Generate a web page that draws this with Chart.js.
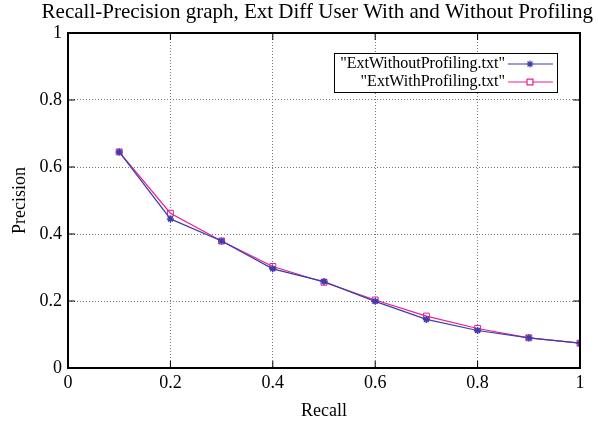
<!DOCTYPE html>
<html>
<head>
<meta charset="utf-8">
<script src="https://cdn.jsdelivr.net/npm/chart.js@4/dist/chart.umd.min.js"></script>
<style>
  html, body { margin: 0; padding: 0; background: #fff; }
  #wrap { width: 598px; height: 422px; }
</style>
</head>
<body>
<div id="wrap"><canvas id="chart" width="598" height="422"></canvas></div>
<script>
// recall levels and precision per series
const recall = [0.1, 0.2, 0.3, 0.4, 0.5, 0.6, 0.7, 0.8, 0.9, 1.0];
const withoutProfiling = [0.645, 0.445, 0.379, 0.296, 0.258, 0.199, 0.145, 0.112, 0.090, 0.074];
const withProfiling = [0.645, 0.462, 0.379, 0.303, 0.256, 0.203, 0.155, 0.118, 0.090, 0.074];
const seriesNames = ['"ExtWithoutProfiling.txt"', '"ExtWithProfiling.txt"'];
const tickValues = [0, 0.2, 0.4, 0.6, 0.8, 1];
const tickLabels = ['0', '0.2', '0.4', '0.6', '0.8', '1'];
const chartTitle = 'Recall-Precision graph, Ext Diff User With and Without Profiling';

const SERIF = '"Liberation Serif", "DejaVu Serif", serif';
const BLUE = '#3c3cae';
const PINK = '#e8208e';

function toPoints(values) {
    return recall.map((r, i) => ({ x: r, y: values[i] }));
}

function tickText(value) {
    const i = tickValues.indexOf(Math.round(value * 10) / 10);
    return i >= 0 ? tickLabels[i] : '';
}

// frame with inward ticks on all four sides, gnuplot style
const framePlugin = {
    id: 'frame',
    afterDatasetsDraw(chart) {
        const { ctx, chartArea: a, scales } = chart;
        ctx.save();
        ctx.strokeStyle = '#000';
        ctx.lineWidth = 1;
        ctx.beginPath();
        tickValues.forEach(v => {
            const px = scales.x.getPixelForValue(v);
            const py = scales.y.getPixelForValue(v);
            ctx.moveTo(px, a.bottom); ctx.lineTo(px, a.bottom - 7);
            ctx.moveTo(px, a.top); ctx.lineTo(px, a.top + 7);
            ctx.moveTo(a.left, py); ctx.lineTo(a.left + 7, py);
            ctx.moveTo(a.right, py); ctx.lineTo(a.right - 7, py);
        });
        ctx.stroke();
        ctx.lineWidth = 2;
        ctx.strokeRect(a.left, a.top, a.right - a.left, a.bottom - a.top);
        ctx.restore();
    }
};

// title sits a little right of the plot centre, like gnuplot puts it
const titlePlugin = {
    id: 'plotTitle',
    afterDraw(chart) {
        const { ctx } = chart;
        ctx.save();
        ctx.fillStyle = '#000';
        ctx.font = '21px ' + SERIF;
        ctx.textAlign = 'right';
        ctx.textBaseline = 'middle';
        ctx.fillText(chartTitle, 593, 12);
        ctx.restore();
    }
};

// key box in the upper right, text then line sample
const keyPlugin = {
    id: 'key',
    afterDraw(chart) {
        const { ctx } = chart;
        const box = { x: 334, y: 53, w: 223, h: 39 };
        ctx.save();
        ctx.fillStyle = '#fff';
        ctx.fillRect(box.x, box.y, box.w, box.h);
        ctx.strokeStyle = '#000';
        ctx.lineWidth = 1;
        ctx.strokeRect(box.x + 0.5, box.y + 0.5, box.w, box.h);
        ctx.font = '16px ' + SERIF;
        ctx.textAlign = 'right';
        ctx.textBaseline = 'middle';
        chart.data.datasets.forEach((ds, i) => {
            const y = box.y + 11 + i * 18;
            ctx.fillStyle = '#000';
            ctx.fillText(seriesNames[i], 505, y);
            ctx.strokeStyle = ds.borderColor;
            ctx.lineWidth = 1.2;
            ctx.beginPath();
            ctx.moveTo(508, y); ctx.lineTo(553, y);
            ctx.stroke();
            ctx.fillStyle = i === 0 ? ds.borderColor : '#fff';
            Chart.helpers.drawPoint(ctx, {
                pointStyle: ds.pointStyle, radius: ds.pointRadius, borderWidth: 1
            }, 530, y);
        });
        ctx.restore();
    }
};

const ctx = document.getElementById('chart').getContext('2d');
const chart = new Chart(ctx, {
    type: 'line',
    data: {
        datasets: [
            {
                label: seriesNames[0],
                data: toPoints(withoutProfiling),
                borderColor: BLUE,
                backgroundColor: BLUE,
                borderWidth: 1.2,
                pointStyle: 'star',
                pointRadius: 3.5,
                pointBorderWidth: 1.5,
                pointBorderColor: BLUE,
                tension: 0
            },
            {
                label: seriesNames[1],
                data: toPoints(withProfiling),
                borderColor: PINK,
                backgroundColor: 'rgba(0,0,0,0)',
                borderWidth: 1.2,
                pointStyle: 'rect',
                pointRadius: 4.2,
                pointBorderWidth: 1,
                pointBorderColor: PINK,
                tension: 0
            }
        ]
    },
    options: {
        responsive: false,
        animation: false,
        layout: { padding: { left: 0, right: 18, top: 33, bottom: 0 } },
        plugins: {
            legend: { display: false },
            tooltip: { enabled: false },
            title: { display: false }
        },
        scales: {
            x: {
                type: 'linear',
                min: 0,
                max: 1,
                afterFit(scale) { scale.height = 54; },
                afterBuildTicks(scale) { scale.ticks = tickValues.map(v => ({ value: v })); },
                ticks: {
                    color: '#000',
                    font: { family: SERIF, size: 18 },
                    padding: 4,
                    maxRotation: 0,
                    callback: tickText
                },
                grid: { color: '#777', drawTicks: false, lineWidth: 1 },
                border: { display: false, dash: [1, 2] },
                title: {
                    display: true,
                    text: 'Recall',
                    color: '#000',
                    font: { family: SERIF, size: 18 },
                    padding: { top: 0, bottom: 0 }
                }
            },
            y: {
                type: 'linear',
                min: 0,
                max: 1,
                afterFit(scale) { scale.width = 68; },
                afterBuildTicks(scale) { scale.ticks = tickValues.map(v => ({ value: v })); },
                ticks: {
                    color: '#000',
                    font: { family: SERIF, size: 18 },
                    padding: 6,
                    callback: tickText
                },
                grid: { color: '#777', drawTicks: false, lineWidth: 1 },
                border: { display: false, dash: [1, 2] },
                title: {
                    display: true,
                    text: 'Precision',
                    color: '#000',
                    font: { family: SERIF, size: 18 },
                    padding: { top: 9, bottom: 0 }
                }
            }
        }
    },
    plugins: [framePlugin, titlePlugin, keyPlugin]
});
</script>
</body>
</html>
